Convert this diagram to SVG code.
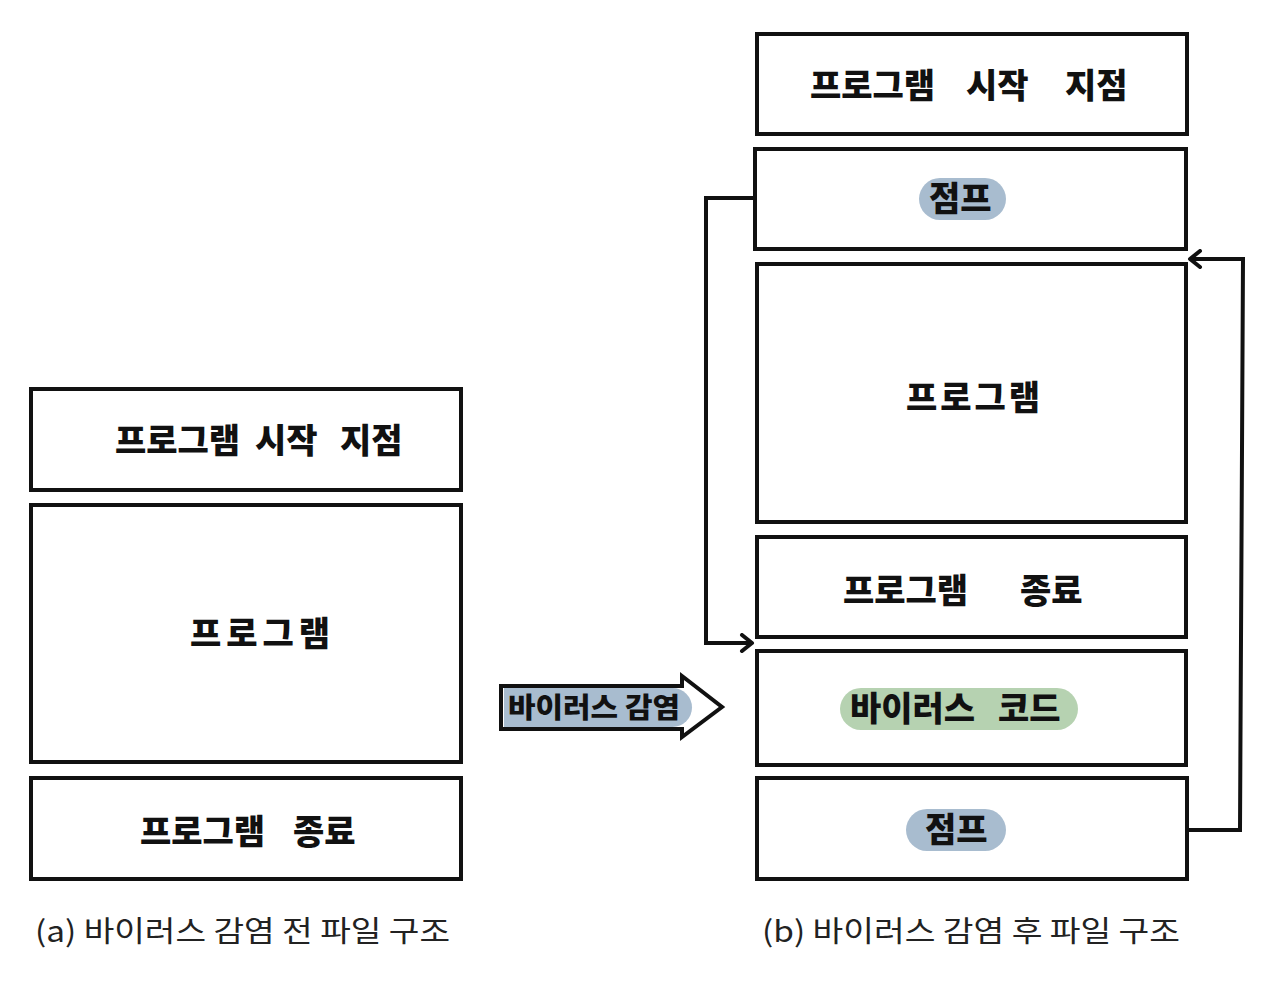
<svg xmlns="http://www.w3.org/2000/svg" width="1280" height="982" viewBox="0 0 1280 982">
<defs>
<style>
.box{fill:#fff;stroke:#111;stroke-width:4}
.hw{font-family:"Noto Sans CJK KR","Noto Sans",sans-serif;font-weight:900;font-size:34px;fill:#111}
.hws{font-size:28px}
.cap{font-family:"Noto Sans CJK KR","Noto Sans",sans-serif;font-weight:400;font-size:29px;fill:#222}
.conn{fill:none;stroke:#111;stroke-width:4;stroke-linejoin:miter}
.blue{fill:#a8bccf}
.green{fill:#b6d2b1}
</style>
<marker id="chev" markerWidth="20" markerHeight="20" refX="14" refY="10" orient="auto" markerUnits="userSpaceOnUse">
<path d="M4,2 L14,10 L4,18" fill="none" stroke="#111" stroke-width="4" stroke-linecap="round" stroke-linejoin="round"/>
</marker>
</defs>
<rect width="1280" height="982" fill="#fff"/>

<g id="left-start"><rect class="box" x="31" y="389" width="430" height="101"/><text class="hw" y="453"><tspan x="115">프로그램</tspan> <tspan x="255">시작</tspan> <tspan x="340">지점</tspan></text></g>
<g id="left-program"><rect class="box" x="31" y="505" width="430" height="257"/><text class="hw" x="190" y="646" textLength="140">프로그램</text></g>
<g id="left-end"><rect class="box" x="31" y="778" width="430" height="101"/><text class="hw" y="844"><tspan x="140">프로그램</tspan> <tspan x="293">종료</tspan></text></g>

<g id="infect-arrow">
<path d="M501,686 L682,686 L682,676 L722,707 L682,737 L682,729 L501,729 Z" fill="#fff" stroke="#111" stroke-width="4" stroke-linejoin="miter"/>
<rect class="blue" x="504" y="688" width="188" height="39" rx="19.5"/>
<rect class="blue" x="504" y="688" width="30" height="39"/>
<text class="hw hws" x="508" y="718" textLength="172" lengthAdjust="spacingAndGlyphs">바이러스 감염</text>
</g>

<g id="right-start"><rect class="box" x="757" y="34" width="430" height="100"/><text class="hw" y="98"><tspan x="810">프로그램</tspan> <tspan x="966">시작</tspan> <tspan x="1065">지점</tspan></text></g>
<g id="right-jump1"><rect class="box" x="755" y="149" width="431" height="100"/><rect class="blue" x="919" y="178" width="87" height="42" rx="21"/><text class="hw" x="929" y="211">점프</text></g>
<g id="right-program"><rect class="box" x="757" y="264" width="429" height="258"/><text class="hw" x="906" y="410" textLength="134">프로그램</text></g>
<g id="right-end"><rect class="box" x="757" y="537" width="429" height="100"/><text class="hw" y="603"><tspan x="843">프로그램</tspan> <tspan x="1020">종료</tspan></text></g>
<g id="right-virus"><rect class="box" x="757" y="651" width="429" height="114"/><rect class="green" x="840" y="688" width="238" height="42" rx="21"/><text class="hw" y="721"><tspan x="850">바이러스</tspan> <tspan x="998">코드</tspan></text></g>
<g id="right-jump2"><rect class="box" x="757" y="778" width="430" height="101"/><rect class="blue" x="906" y="809" width="100" height="42" rx="21"/><text class="hw" x="925" y="842">점프</text></g>

<g id="connectors">
<path class="conn" d="M755,198 L706,198 L706,643 L752,643" marker-end="url(#chev)"/>
<path class="conn" d="M1187,830 L1240,830 L1243,259 L1190,259" marker-end="url(#chev)"/>
</g>

<text class="cap" x="35" y="942" textLength="415" lengthAdjust="spacingAndGlyphs">(a) 바이러스 감염 전 파일 구조</text>
<text class="cap" x="762" y="942" textLength="418" lengthAdjust="spacingAndGlyphs">(b) 바이러스 감염 후 파일 구조</text>
</svg>
